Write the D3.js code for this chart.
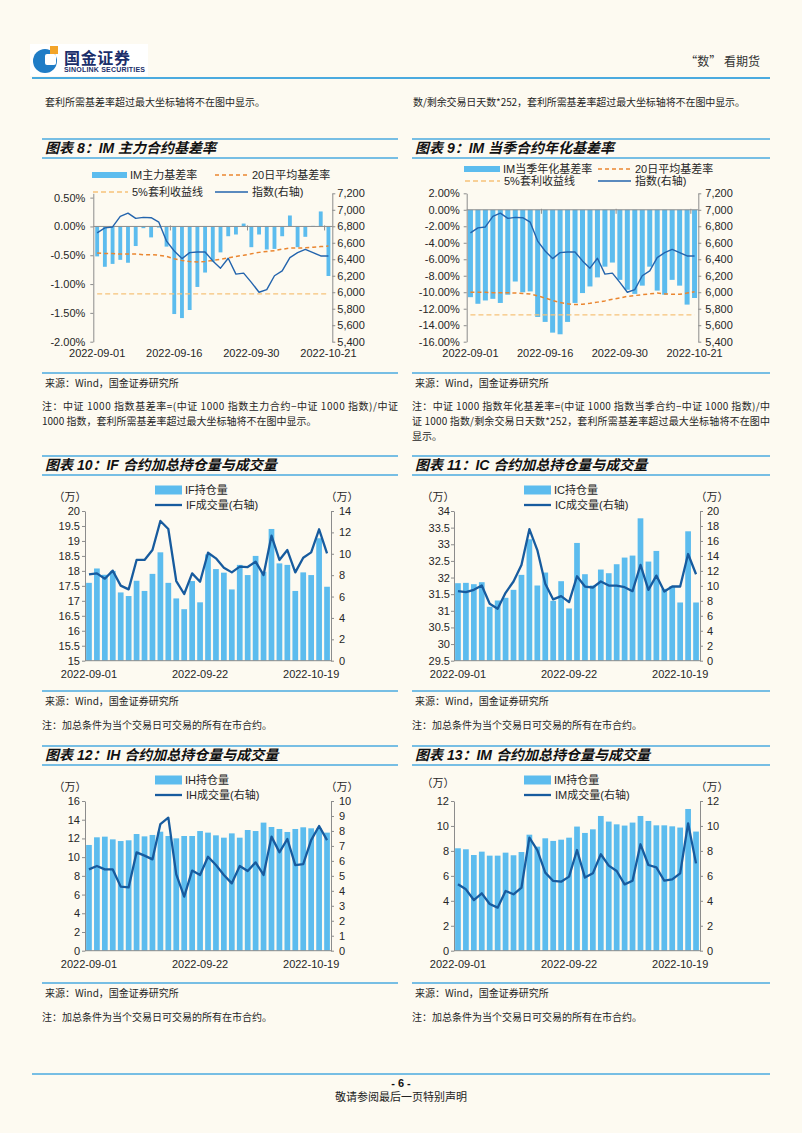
<!DOCTYPE html>
<html><head><meta charset="utf-8">
<script src="https://cdn.jsdelivr.net/npm/d3@7"></script>
<style>
html,body{margin:0;padding:0;background:#fdfaf1;}
svg{display:block;}
</style></head><body>
<svg id="page" width="802" height="1133"></svg>
<script>
const tradeDates = ["2022-09-01","2022-09-02","2022-09-05","2022-09-06","2022-09-07","2022-09-08","2022-09-09","2022-09-13","2022-09-14","2022-09-15","2022-09-16","2022-09-19","2022-09-20","2022-09-21","2022-09-22","2022-09-23","2022-09-26","2022-09-27","2022-09-28","2022-09-29","2022-09-30","2022-10-10","2022-10-11","2022-10-12","2022-10-13","2022-10-14","2022-10-17","2022-10-18","2022-10-19","2022-10-20","2022-10-21"];

// Chart 8: IM main contract basis rate (%)
const imMainBasis = [-0.52,-0.70,-0.65,-0.58,-0.63,-0.34,-0.03,-0.19,-0.02,-0.35,-1.52,-1.59,-1.45,-1.05,-0.80,-0.61,-0.45,-0.17,-0.14,0.05,-0.36,-0.14,-0.40,-0.39,-0.17,0.19,-0.36,-0.18,0.01,0.26,-0.86];
const imMainMa20 = [-0.46,-0.47,-0.47,-0.48,-0.48,-0.48,-0.49,-0.49,-0.50,-0.52,-0.56,-0.59,-0.61,-0.615,-0.61,-0.59,-0.57,-0.545,-0.52,-0.50,-0.475,-0.45,-0.435,-0.42,-0.395,-0.375,-0.375,-0.37,-0.36,-0.35,-0.34];
const imMainArb5 = [-1.17,-1.17,-1.17,-1.17,-1.17,-1.17,-1.17,-1.17,-1.17,-1.17,-1.17,-1.17,-1.17,-1.17,-1.17,-1.17,-1.17,-1.17,-1.17,-1.17,-1.17,-1.17,-1.17,-1.17,-1.17,-1.17,-1.17,-1.17,-1.17,-1.17,-1.17];
const csi1000 = [6720,6780,6792,6920,6960,6896,6908,6904,6850,6620,6500,6408,6480,6488,6488,6380,6292,6412,6220,6232,6120,6000,6032,6200,6260,6420,6480,6520,6480,6440,6440];

// Chart 9: IM current-quarter annualized basis rate (%)
const imQtrBasis = [-10.6,-11.4,-11.0,-10.8,-11.3,-10.3,-8.7,-10.0,-9.9,-13.0,-13.6,-14.9,-15.1,-13.6,-11.3,-10.1,-9.3,-8.2,-6.9,-6.4,-8.5,-9.7,-10.2,-9.2,-6.9,-9.8,-10.3,-8.5,-9.2,-11.5,-10.7];
const imQtrMa20 = [-10.0,-10.0,-10.0,-10.05,-10.05,-10.05,-10.1,-10.15,-10.2,-10.45,-10.7,-11.0,-11.25,-11.4,-11.5,-11.45,-11.35,-11.2,-11.05,-10.85,-10.7,-10.5,-10.4,-10.3,-10.2,-10.1,-10.2,-10.25,-10.25,-10.1,-9.95];
const imQtrArb5 = [-12.75,-12.75,-12.75,-12.75,-12.75,-12.75,-12.75,-12.75,-12.75,-12.75,-12.75,-12.75,-12.75,-12.75,-12.75,-12.75,-12.75,-12.75,-12.75,-12.75,-12.75,-12.75,-12.75,-12.75,-12.75,-12.75,-12.75,-12.75,-12.75,-12.75,-12.75];

// Charts 10-13: open interest (万, bars) and volume (万, line, right axis)
const ifOI  = [17.6,18.08,17.87,18.0,17.28,17.16,17.67,17.33,17.9,18.62,17.6,17.08,16.72,17.66,16.95,18.55,18.06,17.94,17.38,18.2,17.86,18.5,17.97,19.4,18.25,18.2,17.33,17.95,17.86,19.09,17.47];
const ifVol = [8.08,8.17,7.67,8.42,7.02,6.67,9.42,9.42,10.35,13.07,12.32,7.45,6.24,8.17,7.39,10.1,9.57,8.7,8.26,8.8,8.76,9.26,8.01,11.69,9.42,10.35,8.26,9.63,10.13,12.29,10.04];
const icOI  = [31.83,31.84,31.8,31.86,31.12,31.31,31.39,31.63,32.08,33.15,31.76,32.15,31.3,31.89,31.07,33.04,32.1,31.76,32.24,32.13,32.4,32.6,32.66,33.78,32.48,32.8,31.66,31.74,31.25,33.39,31.25];
const icVol = [9.29,9.16,9.47,10.04,7.6,6.95,9.07,10.58,12.79,17.57,14.78,10.27,8.19,8.63,7.83,11.28,9.91,9.78,10.58,10.04,10.04,9.82,9.29,12.79,9.47,11.37,9.25,9.91,9.91,14.25,11.55];
const ihOI  = [11.3,12.12,12.19,11.9,11.72,11.8,12.47,12.22,12.37,12.72,12.26,12.01,12.26,12.26,12.79,12.62,12.33,12.08,12.54,12.08,12.9,12.79,13.69,13.22,13.01,12.69,13.01,13.19,13.08,13.08,12.62];
const ihVol = [5.43,5.66,5.43,5.43,4.28,4.23,6.57,6.35,6.1,8.46,8.89,5.1,3.61,5.35,5.06,6.28,5.72,5.06,4.5,5.66,5.32,5.9,5.06,7.62,6.57,7.46,5.72,5.79,7.39,8.33,7.39];
const imOI  = [8.21,8.13,7.67,7.94,7.62,7.62,7.86,7.65,7.91,9.3,8.34,9.01,8.8,8.9,9.06,9.95,9.44,9.73,10.8,10.35,10.13,10.03,10.27,10.8,10.4,10.05,10.05,9.97,9.87,11.36,9.55];
const imVol = [5.32,4.92,4.06,4.6,3.74,3.45,4.79,4.52,5.05,9.06,8.07,6.26,5.59,5.53,5.94,8.07,5.86,6.2,7.73,6.82,6.39,5.32,5.61,8.53,6.87,6.68,5.61,5.72,6.2,10.21,7.0];

// Tick values
const pctTicks8 = [0.5,0,-0.5,-1,-1.5,-2];
const pctTicks9 = [2,0,-2,-4,-6,-8,-10,-12,-14,-16];
const idxTicks = [5400,5600,5800,6000,6200,6400,6600,6800,7000,7200];
const ifTicksL = [15,15.5,16,16.5,17,17.5,18,18.5,19,19.5,20];
const ifTicksR = [0,2,4,6,8,10,12,14];
const icTicksL = [29.5,30,30.5,31,31.5,32,32.5,33,33.5,34];
const icTicksR = [0,2,4,6,8,10,12,14,16,18,20];
const ihTicksL = [0,2,4,6,8,10,12,14,16];
const ihTicksR = [0,1,2,3,4,5,6,7,8,9,10];
const imTicksL = [0,2,4,6,8,10,12];
const imTicksR = [0,2,4,6,8,10,12];

const BAR = "#5cbcee", AXIS = "#8c8c8c", TXT = "#262626", BLUE = "#4aaadf";
const FONT = "'Liberation Sans','Noto Sans CJK SC',sans-serif";
const CJK = "'Noto Sans CJK SC','Liberation Sans',sans-serif";

const svg = d3.select("#page");
svg.append("rect").attr("width",802).attr("height",1133).attr("fill","#fdfaf1");

function txt(x,y,s,o={}){
  const t = svg.append("text").attr("x",x).attr("y",y).attr("dy","0.35em")
    .attr("font-family",o.family||CJK).attr("font-size",o.size||10)
    .attr("fill",o.fill||TXT).attr("text-anchor",o.anchor||"start").text(s);
  if(o.weight) t.attr("font-weight",o.weight);
  if(o.style) t.attr("font-style",o.style);
  if(o.len){ t.attr("textLength",o.len).attr("lengthAdjust","spacing"); }
  return t;
}
function hline(x1,x2,y,c,w){ svg.append("line").attr("x1",x1).attr("x2",x2).attr("y1",y).attr("y2",y).attr("stroke",c).attr("stroke-width",w); }

// ---------- header ----------
svg.append("rect").attr("x",30).attr("y",44).attr("width",118).attr("height",32).attr("fill","#ffffff");
svg.append("circle").attr("cx",45).attr("cy",61).attr("r",12).attr("fill","#1f7cc6");
svg.append("rect").attr("x",45).attr("y",54).attr("width",11).attr("height",11).attr("rx",2).attr("fill","#ffffff");
svg.append("rect").attr("x",50).attr("y",46).attr("width",8).attr("height",8).attr("fill","#f3a428");
txt(64,58,"国金证券",{size:16,weight:"bold",fill:"#1b2f6b",len:66});
txt(64,70,"SINOLINK SECURITIES",{family:FONT,size:7,weight:"bold",fill:"#1b2f6b",len:81});
txt(760,62,"“数” 看期货",{size:12,anchor:"end",fill:"#333"});
hline(32,770,78,BLUE,2);
txt(45,102,"套利所需基差率超过最大坐标轴将不在图中显示。",{size:10});
txt(413,102,"数/剩余交易日天数*252，套利所需基差率超过最大坐标轴将不在图中显示。",{size:10,len:332});

// ---------- titles / sources ----------
function titleBar(x1,x2,yTop,s){
  hline(x1,x2,yTop,BLUE,1.6);
  txt(x1+3,yTop+9,s,{family:FONT,size:14,weight:"bold",style:"italic",fill:"#111"});
  hline(x1,x2,yTop+19,BLUE,1.6);
}
titleBar(42,398,139,"图表 8：IM 主力合约基差率");
titleBar(412,770,139,"图表 9：IM 当季合约年化基差率");
titleBar(42,398,456,"图表 10：IF 合约加总持仓量与成交量");
titleBar(412,770,456,"图表 11：IC 合约加总持仓量与成交量");
titleBar(42,398,746,"图表 12：IH 合约加总持仓量与成交量");
titleBar(412,770,746,"图表 13：IM 合约加总持仓量与成交量");

function source(x1,x2,y){
  hline(x1,x2,y,BLUE,1.6);
  txt(x1+3,y+10,"来源：Wind，国金证券研究所",{size:10});
}
source(42,398,373); source(412,770,373);
source(42,398,691); source(412,770,691);
source(42,398,983); source(412,770,983);

txt(42,406,"注：中证 1000 指数基差率=(中证 1000 指数主力合约−中证 1000 指数)/中证",{size:10,len:356});
txt(42,421,"1000 指数，套利所需基差率超过最大坐标轴将不在图中显示。",{size:10});
txt(412,406,"注：中证 1000 指数年化基差率=(中证 1000 指数当季合约−中证 1000 指数)/中",{size:10,len:358});
txt(412,421,"证 1000 指数/剩余交易日天数*252，套利所需基差率超过最大坐标轴将不在图中",{size:10,len:358});
txt(412,436,"显示。",{size:10});
["42","412"].forEach(x=>{
  txt(+x,725,"注：加总条件为当个交易日可交易的所有在市合约。",{size:10});
  txt(+x,1017,"注：加总条件为当个交易日可交易的所有在市合约。",{size:10});
});

// ---------- footer ----------
hline(32,770,1074,BLUE,1.6);
txt(401,1083,"- 6 -",{family:FONT,size:11,weight:"bold",anchor:"middle",fill:"#111"});
txt(401,1097,"敬请参阅最后一页特别声明",{size:11,anchor:"middle",fill:"#222"});

// ---------- chart builder ----------
function comboChart(o){
  const g = svg.append("g");
  const x = d3.scaleBand().domain(tradeDates).range([o.x0,o.x1]).paddingInner(o.pad).paddingOuter(o.pad/2);
  const yL = d3.scaleLinear().domain(o.lDom).range([o.y1,o.y0]);
  const yR = d3.scaleLinear().domain(o.rDom).range([o.y1,o.y0]);
  const base = o.base;
  g.append("g").selectAll("rect").data(o.bars).join("rect")
    .attr("x",(d,i)=>x(tradeDates[i])).attr("width",x.bandwidth())
    .attr("y",d=>Math.min(yL(base),yL(d))).attr("height",d=>Math.abs(yL(d)-yL(base)))
    .attr("fill",BAR);
  const la = g.append("g").attr("transform",`translate(${o.x0},0)`)
    .call(d3.axisLeft(yL).tickValues(o.lTicks).tickFormat(o.lFmt).tickSize(3).tickSizeOuter(0).tickPadding(o.lPad));
  const ra = g.append("g").attr("transform",`translate(${o.x1},0)`)
    .call(d3.axisRight(yR).tickValues(o.rTicks).tickFormat(o.rFmt).tickSize(3).tickSizeOuter(0).tickPadding(o.rPad));
  [la,ra].forEach(a=>{
    a.selectAll("path,line").attr("stroke",AXIS);
    a.selectAll("text").attr("font-size",11).attr("fill",TXT).attr("font-family",FONT);
  });
  g.append("line").attr("x1",o.x0).attr("x2",o.x1).attr("y1",yL(base)).attr("y2",yL(base)).attr("stroke",AXIS);
  const labelDates = tradeDates.filter((d,i)=>i%o.every===0);
  if(o.catTicks){
    labelDates.slice(1).forEach(d=>{
      const bx = x(d) - x.step()*o.pad/2;
      g.append("line").attr("x1",bx).attr("x2",bx).attr("y1",yL(base)-1).attr("y2",yL(base)+4).attr("stroke",AXIS);
    });
  }
  const xa = g.append("g").attr("transform",`translate(0,${o.labelY})`)
    .call(d3.axisBottom(x).tickValues(labelDates).tickSize(0).tickPadding(0));
  xa.select(".domain").remove();
  xa.selectAll("text").attr("y",0).attr("dy","0.35em").attr("font-size",11).attr("fill",TXT).attr("font-family",FONT);
  o.lines.forEach(l=>{
    const sc = l.axis==="R"?yR:yL;
    g.append("path").datum(l.data)
      .attr("d",d3.line().x((d,i)=>x(tradeDates[i])+x.bandwidth()/2).y(d=>sc(d)))
      .attr("fill","none").attr("stroke",l.color).attr("stroke-width",l.width)
      .attr("stroke-dasharray",l.dash||null).attr("stroke-linejoin","round");
  });
}

const pctFmt = d=>d.toFixed(2)+"%";
const commaFmt = d3.format(",");
const numFmt = d=>String(d);
const ORANGE = "#ea8630", ARB = "#f6c27a", IDX = "#2364ad", VOL = "#175b9e";

comboChart({x0:93.3,x1:332.3,y0:193.3,y1:341.7,pad:0.5,base:0,
  lDom:[-2,0.575],lTicks:pctTicks8,lFmt:pctFmt,lPad:5,
  rDom:[5400,7200],rTicks:idxTicks,rFmt:commaFmt,rPad:2,
  bars:imMainBasis,every:10,labelY:353,catTicks:true,
  lines:[{data:imMainArb5,axis:"L",color:ARB,width:1.3,dash:"5,3"},
         {data:imMainMa20,axis:"L",color:ORANGE,width:1.5,dash:"4,3"},
         {data:csi1000,axis:"R",color:IDX,width:1.4}]});

comboChart({x0:466.7,x1:698.3,y0:193.3,y1:341.7,pad:0.33,base:0,
  lDom:[-16,2],lTicks:pctTicks9,lFmt:pctFmt,lPad:4,
  rDom:[5400,7200],rTicks:idxTicks,rFmt:commaFmt,rPad:4,
  bars:imQtrBasis,every:10,labelY:353,catTicks:true,
  lines:[{data:imQtrArb5,axis:"L",color:ARB,width:1.3,dash:"5,3"},
         {data:imQtrMa20,axis:"L",color:ORANGE,width:1.5,dash:"4,3"},
         {data:csi1000,axis:"R",color:IDX,width:1.4}]});

comboChart({x0:85,x1:331,y0:511,y1:660.7,pad:0.28,base:15,
  lDom:[15,20],lTicks:ifTicksL,lFmt:numFmt,lPad:2,
  rDom:[0,14],rTicks:ifTicksR,rFmt:numFmt,rPad:5,
  bars:ifOI,every:14,labelY:674,
  lines:[{data:ifVol,axis:"R",color:VOL,width:2.3}]});

comboChart({x0:454,x1:700,y0:511,y1:660.7,pad:0.28,base:29.5,
  lDom:[29.5,34],lTicks:icTicksL,lFmt:numFmt,lPad:1,
  rDom:[0,20],rTicks:icTicksR,rFmt:numFmt,rPad:4,
  bars:icOI,every:14,labelY:674,
  lines:[{data:icVol,axis:"R",color:VOL,width:2.3}]});

comboChart({x0:85,x1:331,y0:801,y1:950.7,pad:0.28,base:0,
  lDom:[0,16],lTicks:ihTicksL,lFmt:numFmt,lPad:2,
  rDom:[0,10],rTicks:ihTicksR,rFmt:numFmt,rPad:5,
  bars:ihOI,every:14,labelY:964,
  lines:[{data:ihVol,axis:"R",color:VOL,width:2.3}]});

comboChart({x0:454,x1:700,y0:801,y1:950.7,pad:0.28,base:0,
  lDom:[0,12],lTicks:imTicksL,lFmt:numFmt,lPad:2,
  rDom:[0,12],rTicks:imTicksR,rFmt:numFmt,rPad:4,
  bars:imOI,every:14,labelY:964,
  lines:[{data:imVol,axis:"R",color:VOL,width:2.3}]});

// ---------- legends ----------
function legBar(x,y,w,h,label){
  svg.append("rect").attr("x",x).attr("y",y-h/2).attr("width",w).attr("height",h).attr("fill",BAR);
  txt(x+w+3,y,label,{family:FONT,size:11});
}
function legLine(x,y,w,label,color,width,dash){
  svg.append("line").attr("x1",x).attr("x2",x+w).attr("y1",y).attr("y2",y)
    .attr("stroke",color).attr("stroke-width",width).attr("stroke-dasharray",dash||null);
  txt(x+w+4,y,label,{family:FONT,size:11});
}
legBar(92,175,35,6,"IM主力基差率");
legLine(215,175,33,"20日平均基差率",ORANGE,1.5,"4,3");
legLine(93,192,35,"5%套利收益线",ARB,1.3,"5,3");
legLine(215,192,33,"指数(右轴)",IDX,1.4);

legBar(464,169,36,6,"IM当季年化基差率");
legLine(598,169,33,"20日平均基差率",ORANGE,1.5,"4,3");
legLine(465,181,35,"5%套利收益线",ARB,1.3,"5,3");
legLine(598,181,33,"指数(右轴)",IDX,1.4);

[[155,490,505,"IF"],[524,490,505,"IC"],[155,780,795,"IH"],[524,780,795,"IM"]].forEach(([x,y1,y2,n])=>{
  legBar(x,y1,27,9,n+"持仓量");
  legLine(x,y2,27,n+"成交量(右轴)",VOL,2.3);
});

// unit labels
[[70,497,342,497],[438,497,712,497],[70,787,342,787],[438,783,712,787]].forEach(([lx,ly,rx,ry])=>{
  txt(lx,ly,"（万）",{size:11,anchor:"middle"});
  txt(rx,ry,"（万）",{size:11,anchor:"middle"});
});
</script>
</body></html>
